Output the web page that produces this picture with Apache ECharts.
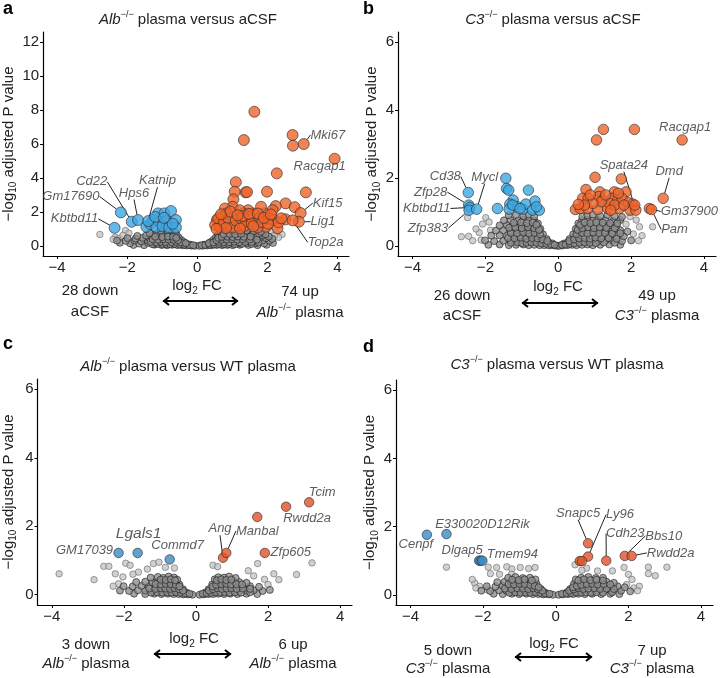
<!DOCTYPE html>
<html><head><meta charset="utf-8">
<script src="https://cdn.jsdelivr.net/npm/echarts@6/dist/echarts.min.js"></script>
<style>html,body{margin:0;padding:0;background:#fff}#c{width:720px;height:678px}</style>
</head><body><div id="c"></div>
<script>
// ---------------- DATA ----------------
const xTickValues = [-4, -2, 0, 2, 4];
const yTicksA = [0, 2, 4, 6, 8, 10, 12];
const yTicks6 = [0, 2, 4, 6];

// Panel a: Alb-/- plasma versus aCSF
const aUp = [[1.63,7.9],[1.33,6.23],[2.72,6.53],[2.73,5.9],[3.04,6.0,'Mki67'],[3.92,5.13,'Racgap1'],[2.27,4.27],[1.1,3.75],[1.07,3.19],[1.38,3.15],[1.42,3.17],[1.99,3.19],[3.1,3.15],[1.03,2.74],[1.01,2.3],[0.79,2.2],[2.52,2.5],[2.78,2.28],[2.95,1.93,'Kif15'],[2.24,2.34],[2.15,2.1],[1.91,1.91],[1.82,2.3],[1.59,1.91],[1.45,2.1],[1.31,1.91],[1.21,2.1],[0.84,1.91],[0.7,1.71],[0.56,1.52],[0.51,1.22],[0.65,1.12],[0.93,1.32],[1.17,1.22],[1.4,1.42],[1.63,1.42],[1.77,1.62],[1.96,1.12],[2.19,1.52],[2.29,1.03],[2.52,1.56],[2.9,1.42,'Lig1'],[2.72,1.5,'Top2a'],[0.6,1.62],[0.76,1.35],[0.9,1.6],[1.0,1.08],[1.1,1.5],[1.25,1.62],[1.35,1.18],[1.5,1.72],[1.55,1.3],[1.72,1.08],[1.85,1.4],[2.05,1.6],[2.32,1.38],[0.68,1.86],[1.3,1.75],[1.48,1.88],[1.73,1.9],[2.02,1.3],[0.95,2.02],[1.15,1.8],[1.6,1.15],[2.4,1.62],[0.82,1.05],[1.22,1.02],[0.55,1.0],[1.9,1.65],[2.1,1.85]];
const aDown = [[-2.36,1.06,'Kbtbd11'],[-2.18,1.97,'Gm17690'],[-1.87,1.42,'Cd22'],[-1.69,1.52,'Hps6'],[-1.45,1.12,'Katnip'],[-1.34,1.28],[-1.12,1.91],[-0.94,1.91],[-0.75,2.05],[-1.26,1.52],[-1.07,1.42],[-0.87,1.46],[-0.61,1.52],[-1.17,1.12],[-0.99,1.16],[-0.8,1.08],[-0.61,1.08],[-1.4,1.46],[-1.2,1.7],[-0.7,1.3],[-0.95,1.65]];
const aOut = [[-2.78,0.67],[-2.34,0.5],[-2.22,0.45],[-2.05,0.9],[-2.12,0.62],[-1.95,0.74],[-2.4,0.38],[2.42,0.67],[2.25,0.76],[2.1,0.86],[2.32,0.5],[2.2,0.6]];
const aGrey = [
[-1.82,0.05],[-1.52,0.04],[-1.22,0.07],[-1.02,0.05],[-0.86,0.03],[-0.71,0.06],[-0.56,0.04],[-0.42,0.03],[-0.29,0.02],[-0.16,0.01],[-0.06,0.0],
[-2.21,0.18],[-1.92,0.15],[-1.66,0.13],[-1.41,0.17],[-1.19,0.14],[-1.01,0.16],[-0.84,0.15],[-0.69,0.13],[-0.54,0.16],[-0.41,0.12],[-0.3,0.1],[-0.2,0.07],
[-2.29,0.31],[-2.04,0.29],[-1.79,0.31],[-1.6,0.27],[-1.41,0.3],[-1.24,0.33],[-1.09,0.28],[-0.94,0.31],[-0.79,0.3],[-0.64,0.28],[-0.5,0.27],[-0.38,0.22],
[-1.99,0.45],[-1.76,0.43],[-1.56,0.47],[-1.36,0.44],[-1.17,0.48],[-1.03,0.43],[-0.87,0.46],[-0.73,0.45],[-0.59,0.41],[-0.46,0.35],
[-1.71,0.58],[-1.46,0.61],[-1.26,0.63],[-1.09,0.59],[-0.93,0.62],[-0.77,0.6],[-0.63,0.57],[-0.53,0.49],
[-1.36,0.74],[-1.14,0.77],[-0.97,0.74],[-0.83,0.78],[-0.69,0.72],[-0.59,0.65],
[-1.04,0.88],[-0.86,0.92],[-0.71,0.89],[-0.63,0.82],
[0.06,0.0],[0.16,0.01],[0.28,0.02],[0.41,0.03],[0.56,0.05],[0.71,0.04],[0.86,0.05],[1.01,0.04],[1.21,0.06],[1.46,0.05],[1.72,0.04],[1.98,0.06],
[0.2,0.07],[0.31,0.1],[0.43,0.12],[0.56,0.15],[0.71,0.13],[0.86,0.16],[1.02,0.15],[1.21,0.13],[1.41,0.17],[1.66,0.15],[1.91,0.14],[2.16,0.17],
[0.38,0.22],[0.51,0.27],[0.66,0.31],[0.81,0.3],[0.96,0.29],[1.11,0.31],[1.29,0.32],[1.46,0.29],[1.66,0.28],[1.86,0.31],[2.06,0.3],
[0.46,0.35],[0.59,0.41],[0.73,0.46],[0.89,0.45],[1.03,0.43],[1.19,0.48],[1.36,0.44],[1.56,0.47],[1.76,0.43],[1.96,0.46],[2.14,0.41],
[0.53,0.49],[0.63,0.57],[0.79,0.61],[0.93,0.62],[1.09,0.59],[1.26,0.63],[1.46,0.6],[1.66,0.58],[1.86,0.61],[2.04,0.55],
[0.59,0.65],[0.69,0.72],[0.83,0.78],[0.99,0.74],[1.16,0.77],[1.36,0.74],[1.56,0.77],[1.76,0.71],[1.95,0.68],
[0.66,0.84],[0.81,0.9],[1.01,0.92],[1.21,0.88],[1.41,0.9],[1.61,0.86],[1.82,0.83],
[-1.28,0.09],[-1.13,0.11],[-0.98,0.08],[-0.88,0.1],[-0.77,0.09],[-0.63,0.1],[-0.49,0.08],[-0.36,0.06],[-0.23,0.05],[-0.12,0.04],
[-1.33,0.23],[-1.17,0.21],[-1.04,0.24],[-0.91,0.22],[-0.73,0.21],[-0.6,0.23],[-0.47,0.2],[-0.33,0.16],
[-1.27,0.38],[-1.12,0.36],[-0.97,0.39],[-0.82,0.37],[-0.68,0.36],[-0.55,0.33],
[-1.2,0.54],[-1.0,0.52],[-0.84,0.55],[-0.69,0.53],[-0.6,0.47],
[0.12,0.04],[0.23,0.05],[0.35,0.06],[0.48,0.08],[0.62,0.1],[0.77,0.09],[0.9,0.1],[1.07,0.09],[1.28,0.11],[1.55,0.1],
[0.33,0.16],[0.46,0.2],[0.61,0.23],[0.76,0.21],[0.91,0.22],[1.06,0.24],[1.2,0.21],[1.37,0.23],[1.55,0.22],[1.75,0.2],
[0.55,0.33],[0.69,0.36],[0.84,0.37],[0.99,0.39],[1.14,0.36],[1.3,0.38],[1.5,0.37],[1.7,0.36],
[0.6,0.47],[0.7,0.53],[0.86,0.54],[1.01,0.52],[1.16,0.55],[1.33,0.53],[1.52,0.54],
[0.75,0.68],[0.92,0.7],[1.08,0.68],[1.25,0.71]];

// Panel b: C3-/- plasma versus aCSF
const bUp = [[1.24,3.43],[1.05,3.12],[2.09,3.43],[3.4,3.12,'Racgap1'],[1.01,2.02],[1.73,1.97],[2.88,1.4,'Dmd'],[0.76,1.66],[1.14,1.59],[1.54,1.59],[1.86,1.59],[0.67,1.4],[0.82,1.4],[1.11,1.45],[1.22,1.35],[1.49,1.4],[1.63,1.35],[1.75,1.4],[1.93,1.27],[2.04,1.23],[0.47,1.07],[0.6,1.1],[0.81,1.1],[1.08,1.07],[1.36,1.1],[1.68,1.1],[1.97,1.05],[2.13,1.05,'Spata24'],[2.5,1.1,'Gm37900'],[2.56,1.07,'Pam'],[1.4,1.25],[1.18,1.3],[0.95,1.25],[0.72,1.2],[1.55,1.2],[1.8,1.2],[2.1,1.2],[1.3,1.5],[0.88,1.5],[1.65,1.55],[1.44,1.05],[0.55,1.22]];
const bDown = [[-2.47,1.57,'Cd38'],[-2.46,1.2,'Zfp28'],[-2.43,1.13,'Kbtbd11'],[-2.45,1.05,'Zfp383'],[-2.24,1.08,'Mycl'],[-1.67,1.1],[-1.44,1.99],[-1.42,1.69],[-1.36,1.64],[-1.24,1.35],[-1.33,1.23],[-1.35,1.08],[-1.12,1.15],[-0.96,1.08],[-0.89,1.23],[-0.82,1.64],[-0.64,1.32],[-0.71,1.05],[-0.52,1.05],[-1.25,1.2],[-1.05,1.1],[-0.6,1.15]];
const bOut = [[-2.49,0.83],[-2.66,0.27],[-2.46,0.28],[-2.12,0.17],[-2.17,0.39],[-2.08,0.64],[-1.99,0.83],[-2.26,0.5],[-1.9,0.7],[-1.86,0.46],[-2.35,0.15],
[2.23,0.56],[2.59,0.56],[2.14,0.76],[1.97,0.86],[2.06,0.35],[2.3,0.3],[1.86,0.64],[2.2,0.15]];
const bGrey = [
[-1.92,0.03],[-1.61,0.04],[-1.36,0.02],[-1.16,0.03],[-0.96,0.04],[-0.81,0.02],[-0.66,0.03],[-0.51,0.02],[-0.38,0.02],[-0.25,0.01],[-0.12,0.01],[-0.03,0.0],
[-2.01,0.16],[-1.76,0.14],[-1.51,0.15],[-1.31,0.17],[-1.11,0.14],[-0.96,0.16],[-0.81,0.15],[-0.66,0.14],[-0.51,0.16],[-0.38,0.13],[-0.26,0.1],[-0.16,0.07],
[-1.84,0.3],[-1.61,0.31],[-1.41,0.29],[-1.21,0.32],[-1.06,0.3],[-0.91,0.28],[-0.76,0.31],[-0.61,0.3],[-0.46,0.27],[-0.32,0.2],
[-1.71,0.45],[-1.51,0.46],[-1.31,0.44],[-1.16,0.47],[-1.01,0.45],[-0.86,0.43],[-0.71,0.46],[-0.56,0.44],[-0.42,0.34],
[-1.61,0.6],[-1.41,0.61],[-1.21,0.59],[-1.06,0.62],[-0.91,0.6],[-0.76,0.61],[-0.61,0.58],[-0.49,0.5],
[-1.49,0.75],[-1.31,0.76],[-1.11,0.74],[-0.96,0.77],[-0.81,0.75],[-0.66,0.74],[-0.56,0.66],
[-1.36,0.9],[-1.16,0.91],[-0.96,0.88],[-0.81,0.92],[-0.66,0.86],
[0.03,0.0],[0.12,0.01],[0.25,0.02],[0.38,0.03],[0.5,0.02],[0.65,0.03],[0.8,0.04],[0.95,0.02],[1.15,0.03],[1.4,0.04],[1.7,0.03],
[0.16,0.07],[0.26,0.1],[0.38,0.13],[0.5,0.16],[0.65,0.14],[0.8,0.15],[0.95,0.17],[1.1,0.14],[1.3,0.16],[1.5,0.15],[1.75,0.14],[2.0,0.16],
[0.31,0.2],[0.45,0.27],[0.6,0.31],[0.75,0.29],[0.9,0.3],[1.05,0.32],[1.2,0.29],[1.4,0.31],[1.6,0.3],[1.8,0.28],
[0.41,0.34],[0.55,0.44],[0.7,0.46],[0.85,0.45],[1.0,0.43],[1.15,0.47],[1.3,0.45],[1.5,0.44],[1.7,0.46],[1.9,0.42],
[0.48,0.5],[0.6,0.59],[0.75,0.61],[0.9,0.6],[1.05,0.62],[1.2,0.58],[1.4,0.61],[1.6,0.59],
[0.55,0.66],[0.65,0.75],[0.8,0.77],[0.95,0.74],[1.1,0.76],[1.3,0.75],[1.5,0.73],[1.7,0.76],
[0.66,0.86],[0.8,0.9],[0.95,0.92],[1.15,0.88],[1.35,0.91],[1.55,0.87],[1.75,0.85],
[-1.3,0.09],[-1.12,0.1],[-0.99,0.08],[-0.87,0.09],[-0.74,0.1],[-0.6,0.09],[-0.46,0.07],[-0.33,0.06],[-0.2,0.04],[-0.1,0.03],
[-1.38,0.23],[-1.2,0.22],[-1.03,0.24],[-0.88,0.21],[-0.72,0.23],[-0.57,0.22],[-0.43,0.19],[-0.3,0.14],
[-1.3,0.38],[-1.13,0.37],[-0.96,0.39],[-0.8,0.36],[-0.65,0.38],[-0.5,0.34],
[-1.35,0.53],[-1.18,0.54],[-1.0,0.52],[-0.83,0.55],[-0.66,0.52],[-0.53,0.47],
[-1.22,0.68],[-1.02,0.69],[-0.86,0.67],[-0.7,0.69],[-0.6,0.62],
[0.1,0.03],[0.2,0.04],[0.32,0.06],[0.44,0.07],[0.58,0.09],[0.72,0.1],[0.87,0.09],[1.03,0.08],[1.25,0.1],[1.55,0.09],
[0.3,0.14],[0.43,0.19],[0.57,0.22],[0.72,0.23],[0.87,0.21],[1.02,0.24],[1.18,0.22],[1.38,0.23],[1.6,0.21],
[0.5,0.34],[0.65,0.38],[0.8,0.36],[0.96,0.39],[1.12,0.37],[1.28,0.38],[1.48,0.36],[1.7,0.37],
[0.53,0.47],[0.66,0.52],[0.82,0.55],[0.98,0.52],[1.14,0.54],[1.32,0.53],[1.55,0.52],
[0.6,0.62],[0.72,0.69],[0.88,0.67],[1.04,0.69],[1.22,0.68],[1.42,0.67],[1.62,0.66]];

// Panel c: Alb-/- plasma versus WT plasma
const cUp = [[3.14,2.7,'Tcim'],[2.5,2.57,'Rwdd2a'],[1.7,2.27],[1.91,1.22,'Zfp605'],[0.75,1.08,'Ang'],[0.84,1.22,'Manbal']];
const cDown = [[-2.15,1.22,'GM17039'],[-1.62,1.22,'Lgals1'],[-0.73,1.03,'Commd7']];
const cOut = [[-3.8,0.61],[-2.83,0.44],[-2.56,0.83],[-2.42,0.83],[-2.24,0.61],[-2.15,0.32],[-1.95,0.92],[-1.83,0.86],[-2.03,0.52],[-1.6,0.66],[-1.18,0.91],[-1.03,0.95],[-1.35,0.75],[-0.85,0.8],[-0.6,0.78],[0.47,0.86],[0.6,0.82],[1.71,0.91],[1.45,0.7],[2.16,0.61],[2.3,0.44],[2.79,0.59],[3.22,0.93],[1.9,0.45],[2.0,0.3],[1.6,0.55],[-2.3,0.25],[-1.75,0.6]];
const cGrey = [
[-1.72,0.03],[-1.41,0.02],[-1.16,0.03],[-0.96,0.02],[-0.78,0.03],[-0.62,0.02],[-0.48,0.02],[-0.35,0.01],[-0.22,0.01],[-0.1,0.0],
[-2.11,0.12],[-1.86,0.11],[-1.61,0.13],[-1.41,0.12],[-1.21,0.1],[-1.01,0.13],[-0.86,0.12],[-0.71,0.11],[-0.56,0.13],[-0.41,0.1],[-0.26,0.06],
[-2.01,0.25],[-1.76,0.24],[-1.51,0.26],[-1.31,0.25],[-1.11,0.23],[-0.96,0.26],[-0.81,0.25],[-0.66,0.24],[-0.51,0.22],[-0.36,0.16],
[-1.66,0.37],[-1.41,0.38],[-1.21,0.36],[-1.06,0.39],[-0.91,0.37],[-0.76,0.38],[-0.61,0.36],[-0.46,0.3],
[-1.26,0.5],[-1.06,0.52],[-0.91,0.49],[-0.76,0.53],[-0.61,0.5],[-0.52,0.44],
[0.1,0.0],[0.22,0.01],[0.35,0.02],[0.48,0.02],[0.62,0.03],[0.78,0.02],[0.95,0.03],[1.15,0.02],[1.4,0.03],[1.7,0.02],
[0.25,0.06],[0.4,0.1],[0.55,0.13],[0.7,0.11],[0.85,0.12],[1.0,0.13],[1.2,0.11],[1.4,0.12],[1.6,0.13],[1.85,0.11],[2.05,0.14],
[0.35,0.16],[0.5,0.23],[0.65,0.26],[0.8,0.24],[0.95,0.25],[1.1,0.26],[1.3,0.24],[1.5,0.25],[1.75,0.23],
[0.45,0.3],[0.6,0.37],[0.75,0.39],[0.9,0.36],[1.05,0.38],[1.2,0.37],[1.4,0.35],
[0.52,0.45],[0.62,0.51],[0.78,0.5],[0.92,0.53],[1.1,0.49],
[-1.25,0.06],[-1.08,0.07],[-0.93,0.06],[-0.8,0.07],[-0.68,0.06],[-0.55,0.07],[-0.42,0.05],[-0.3,0.04],[-0.18,0.03],
[-1.3,0.18],[-1.13,0.17],[-0.98,0.19],[-0.85,0.18],[-0.72,0.17],[-0.6,0.19],[-0.47,0.16],[-0.36,0.12],
[-1.12,0.31],[-0.97,0.3],[-0.84,0.32],[-0.7,0.31],[-0.56,0.29],[-0.46,0.24],
[-0.98,0.44],[-0.84,0.43],[-0.7,0.45],[-0.58,0.42],
[0.18,0.03],[0.3,0.04],[0.42,0.05],[0.55,0.07],[0.68,0.06],[0.8,0.07],[0.93,0.06],[1.08,0.07],[1.25,0.06],[1.5,0.07],
[0.36,0.12],[0.47,0.16],[0.6,0.19],[0.72,0.17],[0.85,0.18],[0.98,0.19],[1.13,0.17],[1.3,0.18],[1.5,0.17],
[0.46,0.24],[0.56,0.29],[0.7,0.31],[0.84,0.32],[0.97,0.3],[1.12,0.31],[1.28,0.3],
[0.58,0.42],[0.7,0.45],[0.84,0.43],[0.98,0.44]];

// Panel d: C3-/- plasma versus WT plasma
const dUp = [[0.89,1.51,'Snapc5'],[0.89,1.12,'Ly96'],[0.66,0.99],[0.72,0.99],[1.39,1.0,'Cdh23'],[1.9,1.14,'Bbs10'],[2.09,1.14,'Rwdd2a']];
const dDown = [[-3.55,1.76,'Cenpf'],[-3.01,1.78,'E330020D12Rik'],[-2.11,1.0,'Dlgap5'],[-2.07,1.0],[-2.02,1.0,'Tmem94']];
const dOut = [[-3.01,0.81],[-1.86,0.81],[-1.63,0.8],[-1.35,0.82],[-1.21,0.76],[-0.98,0.8],[-0.75,0.77],[-0.57,0.8],[-1.8,0.62],[-1.55,0.6],[-1.22,0.6],[-2.23,0.34],[-2.3,0.45],[-2.1,0.25],[-1.89,0.15],[-2.2,0.2],[0.53,0.88],[0.85,0.78],[1.15,0.7],[2.55,0.81],[3.06,0.81],[2.55,0.62],[2.74,0.56],[2.0,0.6],[2.1,0.45],[2.3,0.25],[2.15,0.2],[1.95,0.3],[1.88,0.8],[1.56,0.7],[0.72,0.72],[2.25,0.12]];
const dGrey = [
[-1.71,0.03],[-1.46,0.02],[-1.21,0.03],[-1.01,0.02],[-0.81,0.03],[-0.63,0.02],[-0.48,0.02],[-0.34,0.01],[-0.2,0.01],[-0.08,0.0],
[-2.05,0.12],[-1.81,0.11],[-1.56,0.13],[-1.36,0.12],[-1.16,0.1],[-0.96,0.13],[-0.79,0.12],[-0.62,0.11],[-0.46,0.12],[-0.3,0.07],
[-1.9,0.25],[-1.66,0.24],[-1.46,0.26],[-1.26,0.25],[-1.06,0.23],[-0.91,0.26],[-0.73,0.25],[-0.56,0.24],[-0.41,0.17],
[-1.61,0.37],[-1.41,0.38],[-1.21,0.36],[-1.01,0.39],[-0.86,0.37],[-0.69,0.38],[-0.53,0.32],
[-1.31,0.5],[-1.11,0.52],[-0.91,0.49],[-0.71,0.5],[-0.56,0.45],
[0.08,0.0],[0.2,0.01],[0.34,0.02],[0.48,0.02],[0.62,0.03],[0.8,0.02],[1.0,0.03],[1.25,0.02],[1.5,0.03],[1.75,0.02],
[0.3,0.07],[0.45,0.11],[0.62,0.12],[0.78,0.13],[0.95,0.11],[1.15,0.12],[1.35,0.13],[1.55,0.11],[1.8,0.12],[2.05,0.1],
[0.4,0.17],[0.55,0.24],[0.72,0.26],[0.9,0.25],[1.05,0.23],[1.25,0.26],[1.45,0.24],[1.7,0.25],[1.9,0.22],
[0.5,0.32],[0.68,0.38],[0.85,0.36],[1.0,0.39],[1.2,0.37],[1.4,0.38],[1.6,0.35],
[0.55,0.45],[0.7,0.5],[0.9,0.52],[1.1,0.49],[1.3,0.5],
[-1.28,0.06],[-1.12,0.07],[-0.97,0.06],[-0.83,0.07],[-0.7,0.06],[-0.56,0.07],[-0.42,0.05],[-0.3,0.04],[-0.17,0.03],
[-1.4,0.18],[-1.22,0.17],[-1.06,0.19],[-0.9,0.18],[-0.76,0.17],[-0.62,0.19],[-0.49,0.16],[-0.37,0.12],
[-1.3,0.31],[-1.15,0.3],[-1.0,0.32],[-0.85,0.31],[-0.7,0.29],[-0.58,0.26],[-0.47,0.22],
[-1.2,0.44],[-1.02,0.43],[-0.86,0.45],[-0.66,0.42],
[0.17,0.03],[0.3,0.04],[0.42,0.05],[0.56,0.07],[0.7,0.06],[0.83,0.07],[0.97,0.06],[1.12,0.07],[1.3,0.06],[1.55,0.07],
[0.37,0.12],[0.49,0.16],[0.62,0.19],[0.76,0.17],[0.9,0.18],[1.06,0.19],[1.22,0.17],[1.4,0.18],[1.6,0.17],
[0.47,0.22],[0.58,0.26],[0.7,0.29],[0.85,0.31],[1.0,0.32],[1.15,0.3],[1.32,0.31],[1.5,0.3],
[0.62,0.42],[0.78,0.45],[0.95,0.43],[1.12,0.44],[1.3,0.42]];

// Text
const titles = ['{i|Alb}{p|−/−}{n| plasma versus aCSF}', '{i|C3}{p|−/−}{n| plasma versus aCSF}', '{i|Alb}{p|−/−}{n| plasma versus WT plasma}', '{i|C3}{p|−/−}{n| plasma versus WT plasma}'];
const downText = [['28 down', '{n|aCSF}'], ['26 down', '{n|aCSF}'], ['3 down', '{i|Alb}{p|−/−}{n| plasma}'], ['5 down', '{i|C3}{p|−/−}{n| plasma}']];
const upText = [['74 up', '{i|Alb}{p|−/−}{n| plasma}'], ['49 up', '{i|C3}{p|−/−}{n| plasma}'], ['6 up', '{i|Alb}{p|−/−}{n| plasma}'], ['7 up', '{i|C3}{p|−/−}{n| plasma}']];

// ---------------- STYLE / LAYOUT ----------------
// label offsets (dx, dy from point centre, px), leader line flag, optional font size
const labelPlacement = [
  {Kbtbd11:[-40,-9,1], Gm17690:[-50,-16,1], Cd22:[-40,-40,1], Hps6:[-4,-27,1], Katnip:[11,-46,1], Mki67:[24,-9,1], Racgap1:[-15,8,0], Kif15:[27,-10,1], Lig1:[24,0,1], Top2a:[33,22,1]},
  {Cd38:[-23,-16,1], Zfp28:[-38,-13,1], Kbtbd11:[-43,1,1], Zfp383:[-41,18,1], Mycl:[8,-32,1], Spata24:[-12,-45,1], Racgap1:[3,-13,0], Dmd:[6,-27,1], Gm37900:[40,3,1], Pam:[23,20,1]},
  {Tcim:[13,-10,0], Rwdd2a:[21,12,0], Zfp605:[26,-1,0], Ang:[-3,-29,1], Manbal:[31,-22,1], GM17039:[-34,-3,0], Lgals1:[1,-19,0,15.5], Commd7:[8,-14,0]},
  {Cenpf:[-11,10,0], E330020D12Rik:[36,-10,0], Dlgap5:[-17,-10,0], Tmem94:[30,-6,0], Snapc5:[-10,-30,1], Ly96:[32,-42,1], Cdh23:[19,-27,1], Bbs10:[39,-20,1], Rwdd2a:[39,-3,1]}
];
const FONT = 'Liberation Sans, Arial, Helvetica, sans-serif';
const TXT = '#222';
const panels = [
  {grid:{left:38, top:32, width:311, height:224}, ymin:-0.6, ymax:12.6, yTicks:yTicksA, out:aOut, grey:aGrey, down:aDown, up:aUp, big:11, blue:'#3EA8E2', orange:'#EF642A', nameGap:21},
  {grid:{left:398, top:32, width:318, height:224}, ymin:-0.3, ymax:6.3, yTicks:yTicks6, out:bOut, grey:bGrey, down:bDown, up:bUp, big:10.5, blue:'#3EA8E2', orange:'#EF642A', nameGap:13},
  {grid:{left:35, top:379, width:317, height:226}, ymin:-0.3, ymax:6.3, yTicks:yTicks6, out:cOut, grey:cGrey, down:cDown, up:cUp, big:9.5, blue:'#3B8BC4', orange:'#E0532A', nameGap:19},
  {grid:{left:396, top:380, width:317, height:225}, ymin:-0.3, ymax:6.3, yTicks:yTicks6, out:dOut, grey:dGrey, down:dDown, up:dUp, big:9.5, blue:'#3B8BC4', orange:'#E0532A', nameGap:16}
];
// annotation positions (centres, px)
const annot = [
  {title:[188,20], letter:[3,9,'a'], down:[90,291,312], fc:[197,286], arrow:[163,238,301], up:[300,292,313]},
  {title:[553,20], letter:[363,9,'b'], down:[462,296,316], fc:[558,287], arrow:[522,598,303], up:[657,296,316]},
  {title:[188,367], letter:[3,344,'c'], down:[86,645,664], fc:[194,639], arrow:[154,231,654], up:[293,645,664]},
  {title:[557,365], letter:[363,347,'d'], down:[448,651,669], fc:[554,644], arrow:[515,592,657], up:[652,651,669]}
];

const RICH = {
  n:{fontSize:15, lineHeight:20, fontFamily:FONT, fill:TXT, color:TXT},
  i:{fontSize:15, lineHeight:20, fontFamily:FONT, fontStyle:'italic', fill:TXT, color:TXT},
  p:{fontSize:9, lineHeight:11, fontFamily:FONT, verticalAlign:'top', fill:TXT, color:TXT},
  s:{fontSize:10, lineHeight:10, fontFamily:FONT, verticalAlign:'bottom', fill:TXT, color:TXT}
};
const minusFmt = v => v < 0 ? '−' + Math.abs(v) : String(v);

const grids = [], xAxes = [], yAxes = [], series = [], graphics = [];

function pointData(arr, pi) {
  return arr.map(p => {
    if (!p[2]) return [p[0], p[1]];
    const pl = labelPlacement[pi][p[2]];
    const fs = pl[3] || 13;
    return {
      value:[p[0], p[1]],
      label:{show:true, formatter:p[2], position:'inside', fontSize:fs, lineHeight:fs - 1, padding:0, fontStyle:'italic', color:'#333', fontFamily:FONT},
      labelLine:{show: !!pl[2], lineStyle:{color:'#222', width:1}}
    };
  });
}
function layoutFn(pi) {
  return function (params) {
    const pl = labelPlacement[pi][params.text];
    if (!pl) return {};
    const r = params.rect;
    return {x: r.x + r.width / 2 + pl[0], y: r.y + r.height / 2 + pl[1], align:'center', verticalAlign:'middle', moveOverlap:null, hideOverlap:false};
  };
}
const outStyle = {color:'#c6c6c6', borderColor:'#6a6a6a', borderWidth:0.8};
const greyStyle = {color:'#8e8e8e', borderColor:'#1c1c1c', borderWidth:0.8};

panels.forEach((p, gi) => {
  grids.push(Object.assign({containLabel:false}, p.grid));
  xAxes.push({
    gridIndex:gi, type:'value', min:-4.4, max:4.33,
    axisLine:{show:true, onZero:false, lineStyle:{color:'#000', width:1.2}},
    axisTick:{show:true, length:3, customValues:xTickValues, lineStyle:{color:'#000', width:1}},
    axisLabel:{customValues:xTickValues, formatter:minusFmt, fontSize:15, color:TXT, margin:4, fontFamily:FONT},
    splitLine:{show:false}
  });
  yAxes.push({
    gridIndex:gi, type:'value', min:p.ymin, max:p.ymax,
    name:'{n|−log}{s|10}{n| adjusted P value}', nameLocation:'middle', nameGap:p.nameGap, nameRotate:90,
    nameTextStyle:{fontSize:15, color:TXT, fontFamily:FONT, rich:RICH},
    axisLine:{show:true, onZero:false, lineStyle:{color:'#000', width:1.2}},
    axisTick:{show:true, length:3, customValues:p.yTicks, lineStyle:{color:'#000', width:1}},
    axisLabel:{customValues:p.yTicks, formatter:minusFmt, fontSize:15, color:TXT, margin:4, fontFamily:FONT},
    splitLine:{show:false}
  });
  series.push({
    type:'scatter', xAxisIndex:gi, yAxisIndex:gi, data:p.out.map(q => [q[0], q[1]]),
    symbolSize:6.5, silent:true, itemStyle:outStyle
  });
  series.push({
    type:'scatter', xAxisIndex:gi, yAxisIndex:gi, data:p.grey.map(q => [q[0], q[1]]),
    symbolSize:7, silent:true, itemStyle:greyStyle
  });
  series.push({
    type:'scatter', xAxisIndex:gi, yAxisIndex:gi, data:pointData(p.down, gi),
    symbolSize:p.big, silent:true,
    itemStyle:{color:p.blue, borderColor:'#2a2a2a', borderWidth:0.8},
    label:{show:false}, labelLayout:layoutFn(gi)
  });
  series.push({
    type:'scatter', xAxisIndex:gi, yAxisIndex:gi, data:pointData(p.up, gi),
    symbolSize:p.big, silent:true,
    itemStyle:{color:p.orange, borderColor:'#2a2a2a', borderWidth:0.8},
    label:{show:false}, labelLayout:layoutFn(gi)
  });

  const a = annot[gi];
  const txt = (x, y, text) => ({type:'text', x, y, silent:true, style:{
    text, rich:RICH, fontSize:15, fontFamily:FONT, fill:TXT,
    align:'center', verticalAlign:'middle', textAlign:'center', textVerticalAlign:'middle'}});
  graphics.push(txt(a.title[0], a.title[1], titles[gi]));
  graphics.push({type:'text', x:a.letter[0], y:a.letter[1], silent:true, style:{text:a.letter[2], fontSize:18, fontWeight:'bold', fontFamily:FONT, fill:'#000', align:'left', verticalAlign:'middle'}});
  graphics.push(txt(a.down[0], a.down[1], '{n|' + downText[gi][0] + '}'));
  graphics.push(txt(a.down[0], a.down[2], downText[gi][1]));
  graphics.push(txt(a.up[0], a.up[1], '{n|' + upText[gi][0] + '}'));
  graphics.push(txt(a.up[0], a.up[2], upText[gi][1]));
  graphics.push(txt(a.fc[0], a.fc[1], '{n|log}{s|2}{n| FC}'));
  const [x1, x2, y] = a.arrow;
  const ls = {stroke:'#000', lineWidth:2, fill:null};
  graphics.push({type:'polyline', silent:true, shape:{points:[[x1, y], [x2, y]]}, style:ls});
  graphics.push({type:'polyline', silent:true, shape:{points:[[x1 + 6, y - 4], [x1 + 1, y], [x1 + 6, y + 4]]}, style:ls});
  graphics.push({type:'polyline', silent:true, shape:{points:[[x2 - 6, y - 4], [x2 - 1, y], [x2 - 6, y + 4]]}, style:ls});
});

const chart = echarts.init(document.getElementById('c'), null, {renderer:'canvas'});
chart.setOption({
  backgroundColor:'#fff',
  animation:false,
  textStyle:{fontFamily:FONT},
  grid:grids, xAxis:xAxes, yAxis:yAxes, series:series, graphic:graphics
});
</script></body></html>
